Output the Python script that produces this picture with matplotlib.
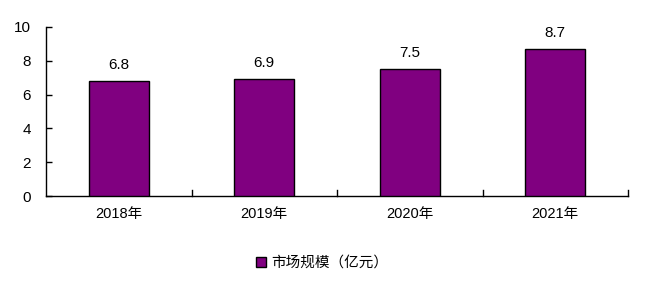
import matplotlib

matplotlib.use("Agg")
import matplotlib.pyplot as plt
import numpy as np

categories = ["2018年", "2019年", "2020年", "2021年"]
values = [6.8, 6.9, 7.5, 8.7]
series_name = "市场规模（亿元）"
y_ticks = [0, 2, 4, 6, 8, 10]

plt.rcParams["font.family"] = ["Liberation Sans", "Noto Sans CJK SC", "DejaVu Sans"]

fig = plt.figure(figsize=(6.54, 2.86), dpi=100)
ax = fig.add_axes([46 / 654, (286 - 196) / 286, (628 - 46) / 654, (196 - 27) / 286])

x = np.arange(len(categories))
bars = ax.bar(x, values, width=0.41, color="#800080", edgecolor="black", linewidth=1.0,
              label=series_name, zorder=3)
for xi, v in zip(x, values):
    ax.text(xi, v + 0.55, f"{v:.1f}", ha="center", va="bottom", fontsize=11)

ax.set_xlim(-0.5, len(categories) - 0.5)
ax.set_ylim(0, 10)
ax.set_yticks(y_ticks)
ax.tick_params(axis="y", direction="in", length=4, labelsize=11, pad=11, width=1)
ax.set_xticks(x)
ax.set_xticklabels(categories, fontsize=10.5)
ax.tick_params(axis="x", length=0, pad=8)
# boundary ticks between categories
for b in np.arange(0.5, len(categories), 1.0):
    ax.plot([b, b], [0, 0.35], color="black", linewidth=1, clip_on=False, zorder=4)

for side in ["top", "right"]:
    ax.spines[side].set_visible(False)
ax.spines["left"].set_linewidth(1)
ax.spines["bottom"].set_linewidth(1)

fig.legend(handles=[bars], labels=[series_name], loc="center", bbox_to_anchor=(322 / 654, 1 - 263 / 286),
           frameon=False, fontsize=10.5, handlelength=0.7, handleheight=0.7, handletextpad=0.3)

fig.savefig("out.png", dpi=100)
